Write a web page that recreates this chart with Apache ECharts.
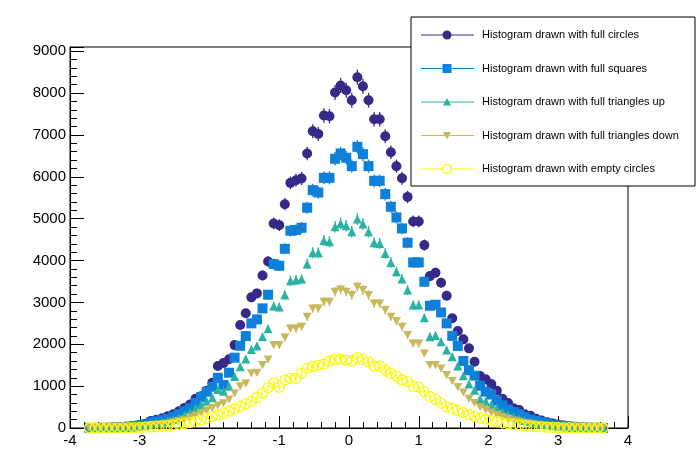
<!DOCTYPE html>
<html>
<head>
<meta charset="utf-8">
<script src="https://cdn.jsdelivr.net/npm/echarts@6/dist/echarts.min.js"></script>
<style>html,body{margin:0;background:#fff}#chart{width:698px;height:476px}</style>
</head>
<body>
<div id="chart"></div>
<script>
// bin centres: 100 bins over [-4,4], only drawn ones from -3.72 to 3.64
var firstBin = -3.72, binWidth = 0.08;

var circles = [1,2,3,5,10,15,25,35,50,70,100,170,200,230,280,330,400,480,560,700,760,890,1080,1480,1550,1640,1980,2460,2740,
  3120,3215,3644,3978,4885,4845,5346,5855,5919,5960,6556,7088,7024,7463,7446,8012,8180,8067,7828,8377,8162,7828,7375,7375,6969,6587,6253,5967,5520,4933,4933,4368,3628,3706,3468,3157,
  2620,2315,2117,1902,1583,1241,1162,1050,890,700,597,470,430,330,290,220,180,140,110,80,60,40,30,20,12,8,5,3];
var squares = [1,2,2,4,8,12,20,28,40,60,85,130,160,190,220,270,330,400,470,600,740,866,986,1200,1026,1320,1680,1964,2196,
  2499,2594,2857,3184,3915,3875,4280,4711,4727,4783,5261,5681,5625,5975,5975,6430,6557,6454,6254,6716,6541,6254,5904,5904,5586,5284,5029,4767,4425,3955,3955,3493,2920,2945,2761,2499,
  2200,1960,1600,1380,1250,1010,870,800,650,540,440,380,330,260,200,170,140,110,80,60,45,30,20,15,10,6,4,2];
var triUp = [1,1,2,4,6,10,15,22,32,45,65,95,120,140,170,210,250,310,380,470,560,640,720,920,880,1000,1230,1460,1650,
  1877,1957,2180,2371,2912,2888,3175,3517,3533,3557,3915,4186,4186,4480,4449,4807,4887,4831,4687,4990,4871,4687,4425,4409,4170,3955,3733,3557,3294,2936,2936,2634,2180,2212,2060,1861,
  1700,1480,1250,1050,900,700,640,560,470,390,330,270,220,180,150,120,95,75,55,40,30,20,14,9,6,4,2,1];
var triDown = [0,1,1,2,4,6,10,14,20,30,42,60,75,90,110,135,165,200,250,300,360,420,480,540,590,680,830,1000,1060,
  1305,1321,1504,1639,1981,1981,2164,2379,2379,2419,2658,2857,2857,3016,3016,3255,3310,3255,3175,3374,3294,3175,2976,2976,2817,2658,2555,2419,2220,2021,2021,1782,1504,1504,1424,1265,
  1120,980,850,700,600,500,430,370,310,260,220,180,150,120,100,80,62,48,36,26,18,12,8,5,3,2,1,1];
var emptyCircles = [0,0,1,1,2,3,5,7,10,15,22,30,38,45,55,70,90,110,130,160,190,230,280,310,360,400,460,520,580,
  631,727,831,966,1069,974,1146,1186,1186,1305,1424,1464,1504,1528,1600,1639,1639,1623,1600,1679,1639,1584,1480,1480,1385,1305,1241,1146,1106,987,974,871,751,688,592,512,
  470,420,370,320,280,240,210,180,150,125,105,85,70,55,45,35,28,22,16,12,8,6,4,3,2,1,1,0];

var names = ['Histogram drawn with full circles','Histogram drawn with full squares','Histogram drawn with full triangles up',
  'Histogram drawn with full triangles down','Histogram drawn with empty circles'];
var colors = ['#352a87','#0f80d9','#2ab3a0','#c9b85c','#f9fb0e'];
var symbols = ['circle','rect','triangle','path://M0,0 L10,0 L5,9 Z','circle'];
var values = [circles, squares, triUp, triDown, emptyCircles];

function toPoints(arr) {
    return arr.map(function (v, i) {
        var x = +(firstBin + i * binWidth).toFixed(2);
        return [x, v, 2 * Math.sqrt(v)];
    });
}

var series = [];
values.forEach(function (arr, k) {
    var pts = toPoints(arr);
    series.push({
        type: 'custom', silent: true, z: 2,
        data: pts,
        renderItem: function (params, api) {
            var a = api.coord([api.value(0), api.value(1) - api.value(2)]);
            var b = api.coord([api.value(0), api.value(1) + api.value(2)]);
            return {type: 'line', shape: {x1: a[0], y1: a[1], x2: b[0], y2: b[1]},
                style: {stroke: colors[k], lineWidth: 1.3}};
        }
    });
    series.push({
        type: 'scatter', name: names[k], z: 3,
        data: pts.map(function (p) { return [p[0], p[1]]; }),
        symbol: symbols[k],
        symbolSize: k == 2 ? 9 : (k == 3 ? [9, 8] : 10),
        itemStyle: k == 4 ? {color: 'rgba(0,0,0,0)', borderColor: colors[k], borderWidth: 1.3, opacity: 1}
                          : {color: colors[k], opacity: 1}
    });
});

// legend drawn by hand so each entry shows a line with its marker
var legendItems = [{type: 'rect', shape: {x: 411, y: 17, width: 284, height: 169},
    style: {fill: '#fff', stroke: '#000', lineWidth: 1}, z: 10}];
names.forEach(function (n, k) {
    var cy = 35 + k * 33.5;
    legendItems.push({type: 'line', shape: {x1: 421, y1: cy, x2: 474, y2: cy}, style: {stroke: colors[k], lineWidth: 1}, z: 11});
    var mk;
    if (k == 0 || k == 4) mk = {type: 'circle', shape: {cx: 447, cy: cy, r: 4.5}};
    else if (k == 1) mk = {type: 'rect', shape: {x: 442.5, y: cy - 4.5, width: 9, height: 9}};
    else if (k == 2) mk = {type: 'polygon', shape: {points: [[443, cy + 3.5], [451, cy + 3.5], [447, cy - 4]]}};
    else mk = {type: 'polygon', shape: {points: [[443, cy - 3.5], [451, cy - 3.5], [447, cy + 4]]}};
    mk.style = k == 4 ? {fill: '#fff', stroke: colors[k], lineWidth: 1.3} : {fill: colors[k]};
    mk.z = 12;
    legendItems.push(mk);
    legendItems.push({type: 'text', x: 482, y: cy, z: 12,
        style: {text: n, fill: '#000', font: '11px "Liberation Sans", Arial', verticalAlign: 'middle'}});
});

var chart = echarts.init(document.getElementById('chart'));
chart.setOption({
    animation: false,
    backgroundColor: '#fff',
    grid: {left: 70, right: 70, top: 47, bottom: 48, show: true, borderColor: '#000', borderWidth: 1},
    xAxis: {
        type: 'value', min: -4, max: 4, interval: 1,
        axisLine: {onZero: false, lineStyle: {color: '#000'}},
        axisTick: {inside: true, length: 12, lineStyle: {color: '#000'}},
        minorTick: {show: true, splitNumber: 5, length: 6, lineStyle: {color: '#000'}},
        axisLabel: {color: '#000', fontSize: 15, fontFamily: 'Liberation Sans', margin: 5},
        splitLine: {show: false}
    },
    yAxis: {
        type: 'value', min: 0, max: 9100, interval: 1000,
        axisLine: {show: true, onZero: false, lineStyle: {color: '#000'}},
        axisTick: {inside: true, length: 14, lineStyle: {color: '#000'}},
        minorTick: {show: true, splitNumber: 5, length: 7, lineStyle: {color: '#000'}},
        axisLabel: {color: '#000', fontSize: 15, fontFamily: 'Liberation Sans', margin: 4,
            formatter: function (v) { return v % 1000 === 0 && v <= 9000 ? v : ''; }},
        splitLine: {show: false}
    },
    graphic: legendItems,
    series: series
});
</script>
</body>
</html>
